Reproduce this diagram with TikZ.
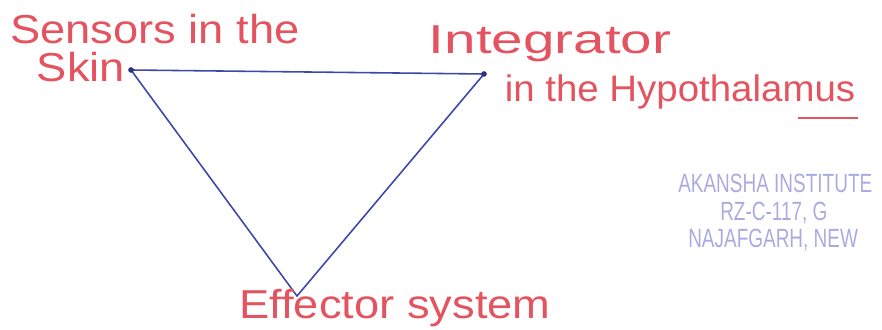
\documentclass[tikz,border=0pt]{standalone}
\usepackage{fontspec}
\setmainfont{Liberation Sans}
\definecolor{ink}{RGB}{228,84,96}
\definecolor{pen}{RGB}{62,72,170}
\definecolor{stamp}{RGB}{170,172,225}

\begin{document}
\begin{tikzpicture}[
  lbl/.style={text=ink,font=\fontsize{23}{27}\selectfont,inner sep=0pt,xscale=1.12},
  stp/.style={text=stamp,font=\fontsize{15}{17}\selectfont,inner sep=0pt,anchor=west,xscale=0.72},
  side/.style={draw=pen,line width=0.9pt}]
  \clip (0,0) rectangle (17.64,6.58);
  % corners of the triangle
  \coordinate (sk) at (2.62,5.18);
  \coordinate (hy) at (9.68,5.10);
  \coordinate (ef) at (5.94,0.66);
  \draw[side] (sk)--(hy)--(ef)--cycle;
  \foreach \p in {sk,hy} \fill[pen!70!black] (\p) circle (1.6pt);
  % handwritten labels
  \node[lbl] (s1) at (3.10,6.00) {Sensors in the};
  \node[lbl] (s2) at (1.62,5.24) {Skin};
  \node[lbl,xscale=1.25] (i1) at (11.00,5.70) {Integrator};
  \node[lbl,font=\fontsize{21}{25}\selectfont,xscale=0.93] (i2) at (13.60,4.74) {in the Hypothalamus};
  \draw[ink,line width=0.9pt] (15.95,4.22)--(17.15,4.22);
  \node[lbl] (e1) at (7.90,0.42) {Effector system};
  % stamp
  \node[stp] (a1) at (13.56,2.92) {AKANSHA INSTITUTE};
  \node[stp] (a2) at (14.40,2.32) {RZ-C-117, G};
  \node[stp] (a3) at (13.76,1.78) {NAJAFGARH, NEW};
\end{tikzpicture}
\end{document}
